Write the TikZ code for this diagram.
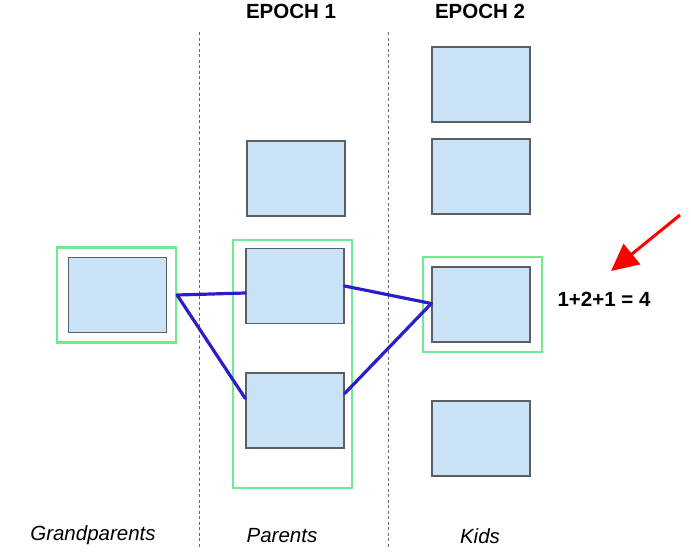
\documentclass[tikz,border=0pt]{standalone}
\usepackage{fontspec}
\setmainfont{Liberation Sans}
\usepackage{xcolor}
\usepackage{tikz}
\usetikzlibrary{arrows.meta,calc,positioning}
\definecolor{cellblue}{RGB}{201,226,245}
\definecolor{cellline}{RGB}{90,95,102}
\definecolor{framegreen}{RGB}{112,234,142}
\definecolor{linkblue}{RGB}{42,30,200}
\definecolor{sepgray}{RGB}{105,105,105}

\begin{document}
\begin{tikzpicture}[x=1pt,y=-1pt,
  cell/.style={draw=cellline,fill=cellblue,line width=1.4pt,minimum width=98pt,minimum height=75pt,inner sep=0pt},
  frame/.style={draw=framegreen,line width=2.2pt,inner sep=0pt},
  link/.style={linkblue,line width=3.2pt,line cap=round},
  sep/.style={sepgray,line width=1pt,dash pattern=on 3pt off 2.5pt},
  head/.style={font=\bfseries\fontsize{20.5}{24}\selectfont},
  gen/.style={font=\itshape\fontsize{20.5}{24}\selectfont}]
\useasboundingbox (0,0) rectangle (691,552);
% generations
\node[frame,minimum width=119pt,minimum height=95pt] (gpf) at (116.5,295) {};
\node[frame,minimum width=119pt,minimum height=248pt] (pf) at (292.5,364) {};
\node[frame,minimum width=119pt,minimum height=95pt] (kf) at (482.5,304.5) {};
\node[cell] (gp) at (117.5,295) {};
\node[cell] (p0) at (296,178.5) {};
\node[cell] (p1) at (295,286) {};
\node[cell] (p2) at (295,410.5) {};
\foreach \n/\y in {k1/84.5,k2/176.5,k3/304.5,k4/438.5}
  \node[cell] (\n) at (481,\y) {};
% separators
\coordinate (s1top) at (199,32); \coordinate (s1bot) at (199,548);
\coordinate (s2top) at (388,32); \coordinate (s2bot) at (388,548);
\draw[sep] (s1top)--(s1bot);
\draw[sep] (s2top)--(s2bot);
% links
\draw[link] (gpf.east)--([yshift=-7pt]p1.west);
\draw[link] (gpf.east)--([yshift=12pt]p2.west);
\draw[link] (p1.east)--([yshift=1pt]k3.west);
\draw[link] ([yshift=17pt]p2.east)--([yshift=1pt]k3.west);
% labels
\node[head] (e1) at (291,11.5) {EPOCH 1};
\node[head] (e2) at (480,11.5) {EPOCH 2};
\node[head] (sum) at (604,299) {1+2+1 = 4};
\node[gen] (lgp) at (93,535) {Grandparents};
\node[gen] (lp) at (282,536) {Parents};
\node[gen] (lk) at (480,536) {Kids};
\coordinate (rtail) at (680,215); \coordinate (rtip) at (611,271);
\draw[red,line width=3pt,-{Triangle[length=27pt,width=26pt]}] (rtail)--(rtip);
\end{tikzpicture}
\end{document}
